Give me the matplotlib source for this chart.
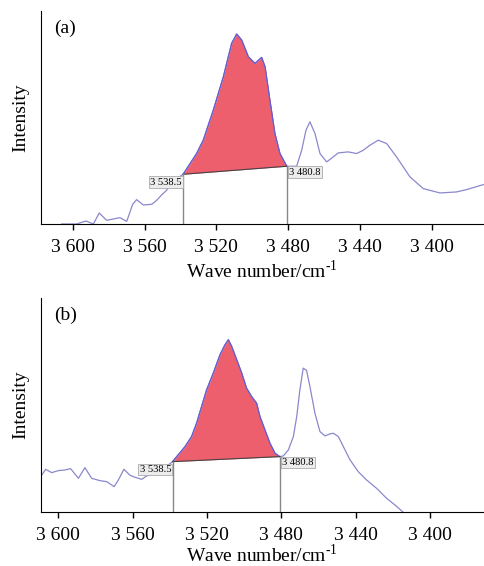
import numpy as np
import matplotlib
matplotlib.use("Agg")
import matplotlib.pyplot as plt

plt.rcParams['font.family'] = ['Liberation Serif', 'DejaVu Serif']
plt.rcParams['mathtext.fontset'] = 'custom'
plt.rcParams['mathtext.rm'] = 'Liberation Serif'

# Panel (a) spectrum
wn_a = [3606.1, 3597.8, 3592.6, 3588.5, 3585.2, 3581.1, 3573.7, 3569.9, 3566.6,
        3564.4, 3560.7, 3556.0, 3553.2, 3550.5, 3547.7, 3544.9, 3538.5,
        3531.0, 3527.3, 3521.7, 3516.1, 3511.5, 3508.7, 3505.9, 3502.2, 3498.5,
        3494.8, 3492.9, 3490.2, 3487.4, 3484.6, 3480.8,
        3475.3, 3472.5, 3470.1, 3467.9, 3465.1, 3462.3, 3458.6, 3454.9, 3452.1,
        3446.6, 3441.9, 3438.2, 3434.5, 3429.9, 3425.2, 3419.7, 3412.2, 3404.8,
        3395.5, 3386.3, 3380.7, 3371.4]
int_a = [0, 0, 9, 0, 33, 11, 19, 8, 59,
         73, 57, 59, 71, 87, 101, 126, 149,
         211, 251, 341, 441, 541, 569, 551, 501, 481,
         499, 471, 371, 271, 211, 173,
         173, 221, 281, 306, 271, 211, 186, 201, 213,
         216, 211, 221, 236, 251, 241, 201, 141, 106,
         93, 96, 103, 118]

# Panel (b) spectrum
wn_b = [3609.5, 3606.8, 3603.6, 3600.0, 3596.4, 3593.4, 3589.2, 3585.7, 3582.1,
        3577.6, 3574.0, 3570.0, 3567.7, 3564.7, 3561.4, 3558.7, 3555.2, 3552.5,
        3548.9, 3545.3, 3538.5,
        3536.3, 3531.8, 3528.3, 3525.6, 3522.9, 3520.2, 3516.6, 3513.0, 3510.3,
        3508.5, 3506.7, 3504.0, 3501.3, 3498.7, 3496.0, 3493.3, 3491.5, 3488.8,
        3486.1, 3483.4, 3480.8,
        3478.9, 3476.2, 3473.5, 3471.7, 3470.0, 3468.2, 3466.4, 3464.6, 3461.9,
        3459.2, 3456.5, 3453.8, 3452.0, 3449.3, 3446.6, 3443.0, 3438.6, 3434.1,
        3428.7, 3423.3, 3418.8, 3414.7, 3410.8]
int_b = [105, 127, 117, 123, 125, 129, 100, 132, 100,
         93, 90, 75, 95, 127, 109, 103, 97, 107,
         115, 120, 150,
         165, 195, 225, 265, 315, 365, 415, 470, 500,
         515, 495, 455, 415, 370, 345, 325, 285, 245,
         205, 175, 165,
         167, 185, 225, 285, 365, 430, 423, 375, 295,
         240, 227, 233, 235, 225, 195, 155, 120, 95,
         70, 40, 20, 0, -20]

ticks = [3600, 3560, 3520, 3480, 3440, 3400]
tick_labels = ['3 600', '3 560', '3 520', '3 480', '3 440', '3 400']
band_left = 3538.5
band_right = 3480.8
band_labels = ['3 538.5', '3 480.8']

line_color = '#8a88cc'
fill_color = '#ee5f6e'

fig = plt.figure(figsize=(4.84, 5.66), dpi=100)
W, H = 484, 566

def make_axes(l, t, r, b):
    return fig.add_axes([l / W, 1 - b / H, (r - l) / W, (b - t) / H])

ax_a = make_axes(40.7, 11, 484, 224)
ax_b = make_axes(40.7, 298, 484, 511.7)

def draw(ax, wn, inten, xlim, ylim, tag, xlpad):
    wn = np.array(wn); inten = np.array(inten, dtype=float)
    ax.plot(wn, inten, color=line_color, lw=0.9, zorder=2)
    yl = np.interp(band_left, wn[::-1], inten[::-1])
    yr = np.interp(band_right, wn[::-1], inten[::-1])
    m = (wn <= band_left) & (wn >= band_right)
    base = yl + (yr - yl) * (wn[m] - band_left) / (band_right - band_left)
    ax.fill_between(wn[m], base, inten[m], color=fill_color, lw=0, zorder=1)
    ax.plot(wn[m], inten[m], color='#6a5acd', lw=0.9, zorder=3)
    ax.plot([band_left, band_right], [yl, yr], color='#444444', lw=0.8, zorder=3)
    ax.plot([band_left, band_left], [ylim[0], yl], color='#888888', lw=1.0, zorder=3)
    ax.plot([band_right, band_right], [ylim[0], yr], color='#888888', lw=1.0, zorder=3)
    bbox = dict(boxstyle='square,pad=0.12', fc='#ececec', ec='#aaaaaa', lw=0.6)
    ax.annotate(band_labels[0], (band_left, yl), xytext=(-1, -2.5), textcoords='offset points',
                ha='right', va='top', fontsize=7.6, bbox=bbox, zorder=5)
    ax.annotate(band_labels[1], (band_right, yr), xytext=(1.5, -1), textcoords='offset points',
                ha='left', va='top', fontsize=7.6, bbox=bbox, zorder=5)
    ax.set_xlim(*xlim)
    ax.set_ylim(*ylim)
    ax.set_xticks(ticks)
    ax.set_xticklabels(tick_labels, fontsize=14)
    ax.set_yticks([])
    ax.spines['top'].set_visible(False)
    ax.spines['right'].set_visible(False)
    ax.tick_params(axis='x', direction='out', length=4, width=1, pad=7)
    ax.set_xlabel('Wave number/cm$^{\\text{-1}}$', fontsize=14, labelpad=xlpad)
    ax.set_ylabel('Intensity', fontsize=14, labelpad=8)
    ax.text(0.03, 0.96, tag, transform=ax.transAxes, fontsize=14, va='top', ha='left')

draw(ax_a, wn_a, int_a, (3617.8, 3371.0), (0, 638), '(a)', 2)
draw(ax_b, wn_b, int_b, (3609.5, 3370.9), (0, 640), '(b)', 0)

fig.savefig('out.png', dpi=100)
